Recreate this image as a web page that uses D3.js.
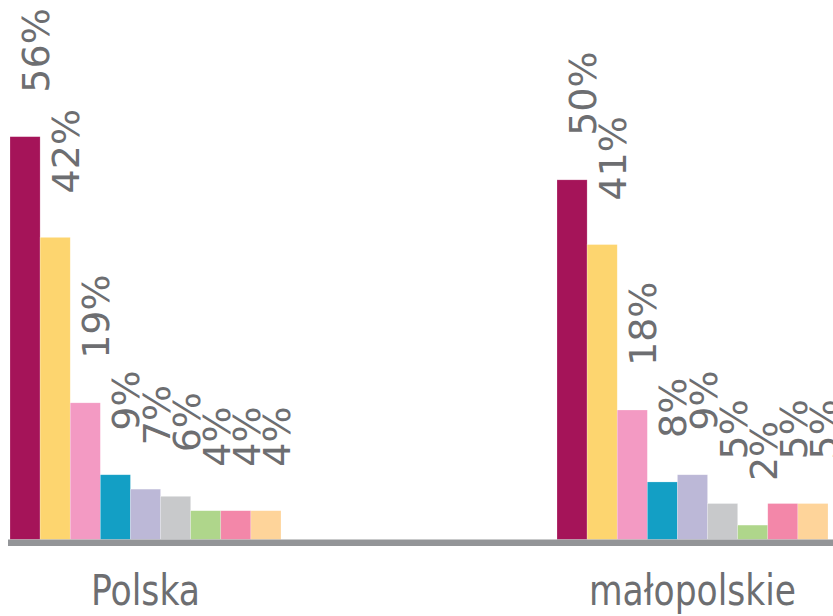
<!DOCTYPE html>
<html>
<head>
<meta charset="utf-8">
<script src="https://cdn.jsdelivr.net/npm/d3@7"></script>
<style>
  html, body { margin: 0; padding: 0; background: #fff; }
  svg { display: block; }
</style>
</head>
<body>
<div id="chart"></div>
<script>
const categories = ["Polska", "małopolskie"];
const seriesNames = ["s1", "s2", "s3", "s4", "s5", "s6", "s7", "s8", "s9"];
const polskaValues = [56, 42, 19, 9, 7, 6, 4, 4, 4];
const malopolskieValues = [50, 41, 18, 8, 9, 5, 2, 5, 5];
const seriesColors = ["#a51459", "#fdd56f", "#f39ac3", "#139fc5", "#bcb8d7", "#c8c9cb", "#afd68b", "#f387a9", "#fed49a"];

const W = 833, H = 616;
const baseY = 539.5;

const data = categories.map((c, ci) => ({
  cat: c,
  values: (ci === 0 ? polskaValues : malopolskieValues).map((v, i) => ({ key: seriesNames[i], value: v, color: seriesColors[i] }))
}));

const svg = d3.select("#chart").append("svg").attr("width", W).attr("height", H);

const x0 = d3.scaleBand().domain(categories).range([10, 10 + 547 * 2]).padding(0);
const x1 = d3.scaleBand().domain(seriesNames).range([0, 271]).padding(0);
const y = d3.scaleLinear().domain([0, 75]).range([baseY, 0]);

const groups = svg.selectAll("g.grp").data(data).enter().append("g")
  .attr("class", "grp")
  .attr("transform", d => `translate(${x0(d.cat)},0)`);

groups.selectAll("rect").data(d => d.values).enter().append("rect")
  .attr("x", d => x1(d.key))
  .attr("y", d => y(d.value))
  .attr("width", x1.bandwidth())
  .attr("height", d => baseY - y(d.value))
  .attr("fill", d => d.color)
  .attr("stroke", "#ffffff")
  .attr("stroke-opacity", 0.35)
  .attr("stroke-width", 0.6);

groups.selectAll("text.val").data(d => d.values).enter().append("text")
  .attr("class", "val")
  .attr("transform", d => `translate(${x1(d.key) + x1.bandwidth() / 2 + 24},${y(d.value) - 44}) rotate(-90)`)
  .attr("text-anchor", "start")
  .attr("font-family", "DejaVu Sans, Verdana, sans-serif")
  .attr("font-size", 38)
  .attr("fill", "#6d6e71")
  .text(d => d.value + "%");

// axis line
svg.append("line")
  .attr("x1", 8).attr("x2", W)
  .attr("y1", baseY + 3.3).attr("y2", baseY + 3.3)
  .attr("stroke", "#939598")
  .attr("stroke-width", 6.6);

// category labels
const labelWidths = { "Polska": 109, "małopolskie": 207 };
svg.selectAll("text.cat").data(categories).enter().append("text")
  .attr("class", "cat")
  .attr("x", c => x0(c) + x1.range()[1] / 2)
  .attr("y", 605)
  .attr("text-anchor", "middle")
  .attr("font-family", "Liberation Sans Narrow, DejaVu Sans Condensed, Open Sans, sans-serif")
  .attr("font-size", 43)
  .attr("fill", "#6d6e71")
  .attr("textLength", c => labelWidths[c])
  .attr("lengthAdjust", "spacingAndGlyphs")
  .text(c => c);
</script>
</body>
</html>
